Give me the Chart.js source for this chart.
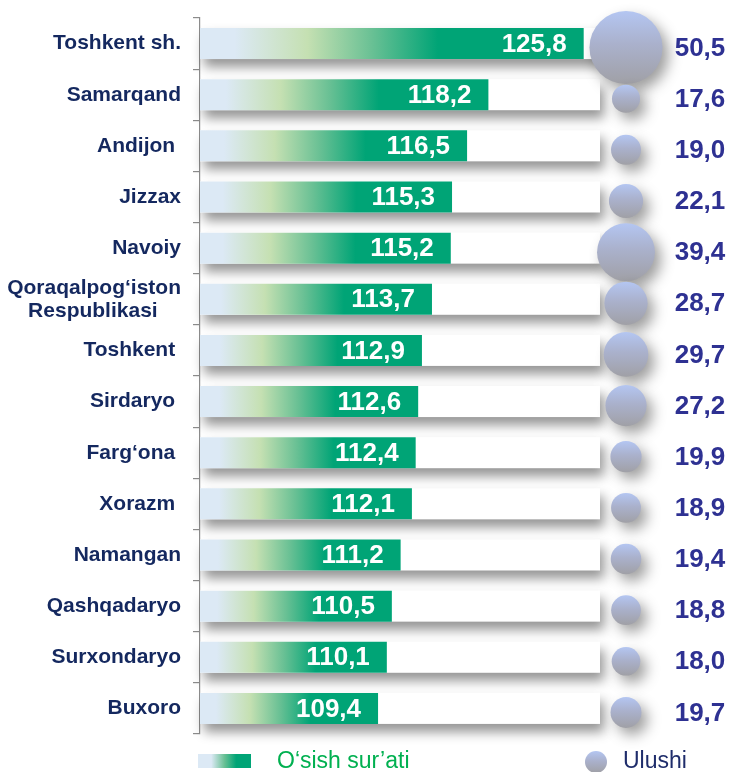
<!DOCTYPE html>
<html>
<head>
<meta charset="utf-8">
<script src="https://cdn.jsdelivr.net/npm/chart.js@4/dist/chart.umd.min.js"></script>
<style>
  html, body { margin: 0; padding: 0; background: #ffffff; }
  #wrap { width: 734px; height: 772px; position: relative; }
</style>
</head>
<body>
<div id="wrap"><canvas id="c"></canvas></div>
<script>
// ---- Data ----
const categories = [
  'Toshkent sh.',
  'Samarqand',
  'Andijon ',
  'Jizzax',
  'Navoiy',
  ['Qoraqalpog‘iston', 'Respublikasi    '],
  'Toshkent ',
  'Sirdaryo ',
  'Farg‘ona ',
  'Xorazm ',
  'Namangan',
  'Qashqadaryo',
  'Surxondaryo',
  'Buxoro'
];
const growthRate = [125.8, 118.2, 116.5, 115.3, 115.2, 113.7, 112.9, 112.6, 112.4, 112.1, 111.2, 110.5, 110.1, 109.4];
const share = [50.5, 17.6, 19.0, 22.1, 39.4, 28.7, 29.7, 27.2, 19.9, 18.9, 19.4, 18.8, 18.0, 19.7];
const legendLabels = ['O‘sish sur’ati', 'Ulushi'];

// ---- Style ----
const FONT = "'Liberation Sans', Arial, sans-serif";
const BLUE_L = '#dce9f5', GREEN_L = '#c5e0b2', GREEN_M = '#68c094', GREEN = '#00a476';
const fmt = v => v.toFixed(1).replace('.', ',');

function barGradient(ctx, x0, x1) {
  const g = ctx.createLinearGradient(x0, 0, x1, 0);
  g.addColorStop(0, BLUE_L);
  g.addColorStop(0.09, BLUE_L);
  g.addColorStop(0.28, GREEN_L);
  g.addColorStop(0.45, GREEN_M);
  g.addColorStop(0.62, GREEN);
  g.addColorStop(1, GREEN);
  return g;
}

function drawBubble(ctx, cx, cy, r, shadow) {
  ctx.save();
  const g = ctx.createLinearGradient(0, cy - r, 0, cy + r);
  g.addColorStop(0, '#b4c6f2');
  g.addColorStop(0.45, '#aab1cc');
  g.addColorStop(1, '#a0a0a6');
  if (shadow) {
    ctx.shadowColor = 'rgba(0,0,0,0.38)';
    ctx.shadowBlur = 14;
    ctx.shadowOffsetX = 6;
    ctx.shadowOffsetY = 7;
  }
  ctx.beginPath();
  ctx.arc(cx, cy, r, 0, Math.PI * 2);
  ctx.fillStyle = g;
  ctx.fill();
  ctx.restore();
}

const decorPlugin = {
  id: 'decor',
  beforeDatasetsDraw(chart) {
    const { ctx, chartArea } = chart;
    const meta = chart.getDatasetMeta(0);
    ctx.save();
    meta.data.forEach(bar => {
      const h = bar.height;
      ctx.save();
      ctx.shadowColor = 'rgba(0,0,0,0.42)';
      ctx.shadowBlur = 12;
      ctx.shadowOffsetX = 4;
      ctx.shadowOffsetY = 8;
      ctx.fillStyle = '#ffffff';
      ctx.fillRect(chartArea.left, bar.y - h / 2, chartArea.right - chartArea.left, h);
      ctx.restore();
    });
    ctx.restore();
  },
  afterDatasetsDraw(chart) {
    const { ctx, chartArea } = chart;
    const meta = chart.getDatasetMeta(0);
    ctx.save();
    // values inside bars
    ctx.font = `bold 26px ${FONT}`;
    ctx.fillStyle = '#ffffff';
    ctx.textAlign = 'right';
    ctx.textBaseline = 'middle';
    meta.data.forEach((bar, i) => {
      ctx.fillText(fmt(growthRate[i]), bar.x - 17, bar.y + 1);
    });
    // bubbles + share labels
    meta.data.forEach((bar, i) => {
      const cy = bar.y + 4;
      const r = 2 + 0.684 * share[i];
      drawBubble(ctx, chartArea.right + 26, cy, r, true);
    });
    ctx.font = `bold 26px ${FONT}`;
    ctx.fillStyle = '#2e3192';
    ctx.textAlign = 'center';
    ctx.textBaseline = 'middle';
    meta.data.forEach((bar, i) => {
      ctx.fillText(fmt(share[i]), chartArea.right + 100, bar.y + 5);
    });
    ctx.restore();
  },
  afterDraw(chart) {
    const { ctx, chartArea } = chart;
    ctx.save();
    const ly = chartArea.bottom + 27;
    // gradient swatch
    const sx = chartArea.left - 2, sw = 53, sh = 14;
    const g = ctx.createLinearGradient(sx, 0, sx + sw, 0);
    g.addColorStop(0, BLUE_L);
    g.addColorStop(0.25, BLUE_L);
    g.addColorStop(0.5, GREEN_M);
    g.addColorStop(0.72, GREEN);
    g.addColorStop(1, GREEN);
    ctx.fillStyle = g;
    ctx.fillRect(sx, ly - sh / 2, sw, sh);
    ctx.font = `23px ${FONT}`;
    ctx.textAlign = 'left';
    ctx.textBaseline = 'middle';
    ctx.fillStyle = '#00b050';
    ctx.fillText(legendLabels[0], chartArea.left + 77, ly + 1);
    // bubble legend
    drawBubble(ctx, chartArea.right - 4, ly + 1, 11, false);
    ctx.fillStyle = '#1f2d6b';
    ctx.fillText(legendLabels[1], chartArea.right + 23, ly + 1);
    ctx.restore();
  }
};

new Chart(document.getElementById('c'), {
  type: 'bar',
  data: {
    labels: categories,
    datasets: [{
      label: legendLabels[0],
      data: growthRate,
      backgroundColor: (c) => {
        const chart = c.chart;
        if (!chart.chartArea || c.type !== 'data') return GREEN;
        const xs = chart.scales.x;
        return barGradient(chart.ctx, chart.chartArea.left, xs.getPixelForValue(c.raw));
      },
      borderWidth: 0,
      barPercentage: 0.606,
      categoryPercentage: 1
    }]
  },
  options: {
    indexAxis: 'y',
    responsive: true,
    maintainAspectRatio: false,
    animation: false,
    events: [],
    layout: { padding: { top: 18, bottom: 38, left: 0, right: 134 } },
    plugins: {
      legend: { display: false },
      tooltip: { enabled: false }
    },
    scales: {
      x: { type: 'linear', min: 95.2, max: 127.1, display: false },
      y: {
        type: 'category',
        afterFit: (s) => { s.width = 200; s.paddingTop = 0; s.paddingBottom = 0; },
        grid: { offset: true, drawOnChartArea: false, tickLength: 7, color: '#8c8c8c', lineWidth: 1.2 },
        border: { color: '#8c8c8c', width: 1.2 },
        ticks: {
          autoSkip: false,
          padding: 12,
          color: '#14285f',
          font: { family: FONT, size: 21, weight: 'bold', lineHeight: 1.1 }
        }
      }
    }
  },
  plugins: [decorPlugin]
});
</script>
</body>
</html>
